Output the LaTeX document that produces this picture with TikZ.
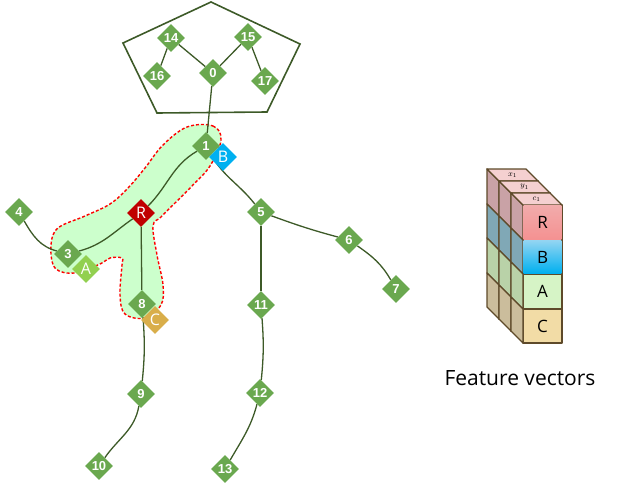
\documentclass[tikz,border=0pt]{standalone}
\usepackage{fontspec}
\setmainfont{Liberation Sans}
\newfontfamily\uifont{Open Sans}
\usetikzlibrary{shapes.geometric,backgrounds}

\definecolor{jointgreen}{HTML}{6AA84F}
\definecolor{bonegreen}{HTML}{3D5A28}
\definecolor{rootred}{HTML}{C00000}
\definecolor{partblue}{HTML}{00B0F0}
\definecolor{partgreen}{HTML}{92D050}
\definecolor{partgold}{HTML}{D9AE4A}
\definecolor{blobfill}{HTML}{CCFFCC}
\definecolor{cubeedge}{HTML}{5E4A2A}
\definecolor{rfront}{HTML}{F2ABAB}
\definecolor{bfront}{HTML}{62C2EC}
\definecolor{afront}{HTML}{D6F4C6}
\definecolor{cfront}{HTML}{F2DCA6}
\definecolor{rside}{HTML}{C9A2A6}
\definecolor{bside}{HTML}{80A8B6}
\definecolor{aside}{HTML}{B9D2A8}
\definecolor{cside}{HTML}{CBBD9C}
\definecolor{topface}{HTML}{F5D0D0}

\begin{document}
\begin{tikzpicture}[x=1pt,y=1pt,
  joint/.style={diamond,fill=jointgreen,text=white,inner sep=0pt,
    minimum width=28pt,minimum height=28pt,font=\bfseries\fontsize{13}{13}\selectfont},
  part/.style={joint,font=\uifont\fontsize{16}{16}\selectfont},
  bone/.style={draw=bonegreen,line width=1.3pt},
  cube/.style={draw=cubeedge,line width=1.4pt,line join=round}]
 \useasboundingbox (0,0) rectangle (623,-487);

 % joints
 \node[joint] (j14) at (171,-38) {14};
 \node[joint] (j15) at (248,-37) {15};
 \node[joint] (j16) at (157,-76) {16};
 \node[joint] (j0) at (213,-73) {0};
 \node[joint] (j17) at (265,-81) {17};
 \node[joint] (j1) at (206,-146) {1};
 \node[joint] (j4) at (19,-212) {4};
 \node[joint] (j3) at (68,-254) {3};
 \node[joint] (j8) at (142,-304) {8};
 \node[joint] (j5) at (261,-212) {5};
 \node[joint] (j6) at (349,-240) {6};
 \node[joint] (j7) at (396,-289) {7};
 \node[joint] (j11) at (261,-305) {11};
 \node[joint] (j9) at (141,-394) {9};
 \node[joint] (j12) at (260,-393) {12};
 \node[joint] (j10) at (99,-466) {10};
 \node[joint] (j13) at (225,-469) {13};
 \node[part,fill=rootred] (pR) at (141,-213) {R};
 \node[part,fill=partblue] (pB) at (223,-157) {B};
 \node[part,fill=partgreen] (pA) at (86,-269) {A};
 \node[part,fill=partgold] (pC) at (155,-320) {C};

 \begin{scope}[on background layer]
  \filldraw[fill=blobfill,draw=red,line width=1.4pt,dash pattern=on 3pt off 2pt]
   plot[smooth cycle,tension=0.6] coordinates {(187,-127) (213,-126) (221,-140)
   (210,-166) (192,-186) (175,-203) (161,-217) (153,-226) (157,-255) (163,-285)
   (161,-305) (145,-318) (125,-314) (120,-295) (122,-265) (122,-258) (110,-258)
   (100,-264) (75,-273) (55,-268) (51,-245) (58,-228) (85,-216) (110,-204)
   (128,-188) (145,-168) (163,-145)};
  \draw[draw=bonegreen,line width=1.6pt]
   (211,-2) -- (300,-44) -- (267,-112) -- (157,-113) -- (123,-43) -- cycle;
  \draw[bone] (j0) -- (j14) -- (j16);
  \draw[bone] (j0) -- (j15) -- (j17);
  \draw[bone] (j0) -- (j1);
  \draw[bone] (j1) to[out=210,in=45] (pR);
  \draw[bone] (pR) to[out=215,in=15] (j3);
  \draw[bone] (j3) to[out=165,in=-60] (j4);
  \draw[bone] (pR) -- (j8);
  \draw[bone] (j8) to[bend left=5] (j9);
  \draw[bone] (j9) to[out=-100,in=55] (j10);
  \draw[bone] (j1) to[out=-60,in=128] (j5);
  \draw[bone] (j5) to[out=-20,in=165] (j6);
  \draw[bone] (j6) to[out=-35,in=120] (j7);
  \draw[bone] (j5) -- (j11);
  \draw[bone] (j11) to[bend left=5] (j12);
  \draw[bone] (j12) to[out=-105,in=60] (j13);
 \end{scope}

 % feature vectors, back slab first
 \foreach \k/\lab in {2/x_1,1/y_1,0/c_1}{
  \begin{scope}[shift={(-12*\k,12*\k)}]
   \foreach \ya/\yb/\fc/\sc in {205/240/rfront/rside,240/274/bfront/bside,
     274/309/afront/aside,309/343/cfront/cside}{
    \filldraw[cube,fill=\fc] (523,-\ya) rectangle (562,-\yb);
    \filldraw[cube,fill=\sc] (523,-\ya) -- (511,-\ya+12) -- (511,-\yb+12)
     -- (523,-\yb) -- cycle;
   }
   \filldraw[cube,fill=topface] (523,-205) -- (562,-205) -- (550,-193)
    -- (511,-193) -- cycle;
   \node[font=\fontsize{8}{8}\selectfont] (top\k) at (536.5,-199) {$\lab$};
  \end{scope}
 }
 \shade[top color=rfront,bottom color=rfront!85!red] (523.7,-205.7) rectangle (561.3,-239.3);
 \shade[top color=bfront!70!white,bottom color=partblue] (523.7,-240.7) rectangle (561.3,-273.3);
 \node[font=\uifont\fontsize{17}{17}\selectfont] (fR) at (542.5,-222.5) {R};
 \node[font=\uifont\fontsize{17}{17}\selectfont] (fB) at (542.5,-257) {B};
 \node[font=\uifont\fontsize{17}{17}\selectfont] (fA) at (542.5,-291.5) {A};
 \node[font=\uifont\fontsize{17}{17}\selectfont] (fC) at (542.5,-326) {C};
 \node[font=\uifont\fontsize{21}{21}\selectfont] (caption) at (520,-378) {Feature vectors};
\end{tikzpicture}
\end{document}
